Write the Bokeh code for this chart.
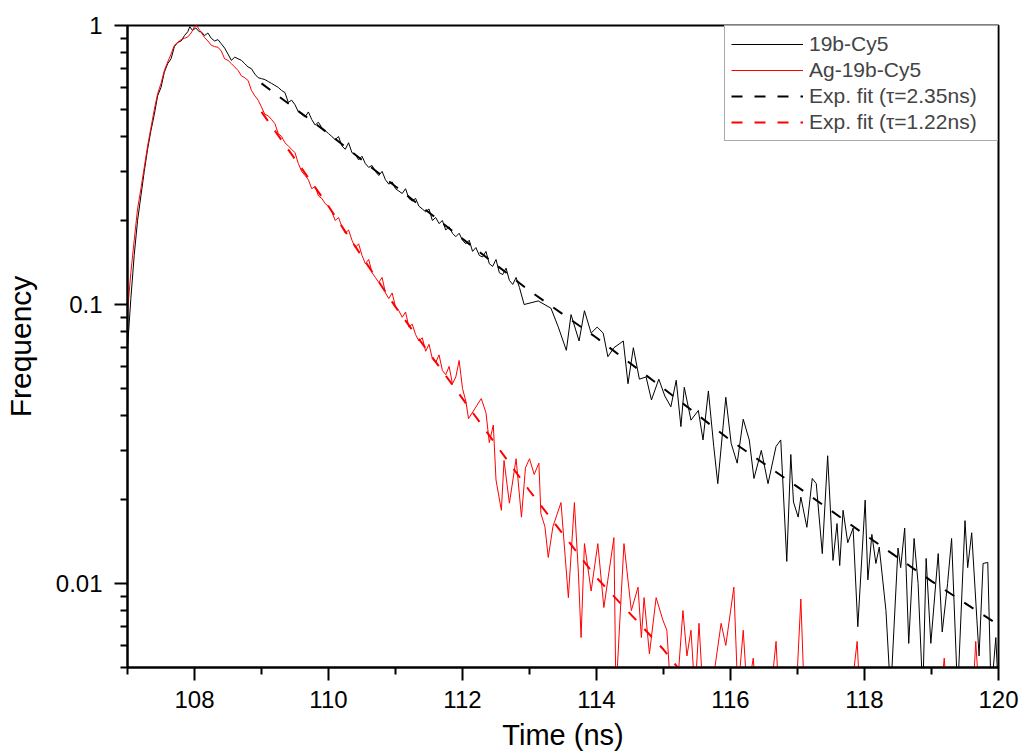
from bokeh.plotting import figure
from bokeh.models import Range1d, FixedTicker, CustomJSTickFormatter, Legend, LegendItem
from bokeh.embed import file_html
from bokeh.resources import INLINE

FONT = "Liberation Sans"

# ---- data ----
black_t = [107.00, 107.05, 107.10, 107.15, 107.20, 107.25, 107.30, 107.35, 107.40, 107.45,
           107.50, 107.55, 107.60, 107.65, 107.70, 107.75, 107.80, 107.85, 107.90, 107.93,
           107.97, 108.02, 108.07, 108.10, 108.15, 108.20, 108.25, 108.30, 108.35, 108.40,
           108.45, 108.50, 108.55, 108.60, 108.65, 108.70, 108.75, 108.80, 108.85, 108.90,
           108.95, 109.00, 109.05, 109.10, 109.15, 109.20, 109.25, 109.30, 109.35, 109.40,
           109.45, 109.50, 109.55, 109.60, 109.65, 109.70, 109.75, 109.80, 109.85, 109.90,
           109.95, 110.00, 110.05, 110.10, 110.15, 110.20, 110.25, 110.30, 110.35, 110.40,
           110.45, 110.50, 110.55, 110.60, 110.65, 110.70, 110.75, 110.80, 110.85, 110.90,
           110.95, 111.00, 111.05, 111.10, 111.15, 111.20, 111.25, 111.30, 111.35, 111.40,
           111.45, 111.50, 111.55, 111.60, 111.65, 111.70, 111.75, 111.80, 111.85, 111.90,
           111.95, 112.00, 112.05, 112.10, 112.15, 112.20, 112.25, 112.30, 112.35, 112.40,
           112.45, 112.50, 112.55, 112.60, 112.65, 112.70, 112.75, 112.80, 112.85, 112.92,
           113.13, 113.32, 113.43, 113.55, 113.62, 113.74, 113.82, 113.92, 114.01, 114.10,
           114.17, 114.26, 114.40, 114.47, 114.55, 114.64, 114.74, 114.82, 114.93, 115.02,
           115.11, 115.19, 115.26, 115.31, 115.41, 115.52, 115.59, 115.67, 115.75, 115.81,
           115.93, 116.01, 116.10, 116.19, 116.28, 116.35, 116.46, 116.56, 116.68, 116.75,
           116.84, 116.90, 116.94, 117.01, 117.05, 117.14, 117.22, 117.28, 117.37, 117.45,
           117.53, 117.59, 117.63, 117.68, 117.75, 117.83, 117.90, 118.01, 118.05, 118.11,
           118.17, 118.22, 118.32, 118.39, 118.50, 118.54, 118.60, 118.66, 118.74, 118.80,
           118.87, 118.92, 118.99, 119.10, 119.16, 119.24, 119.30, 119.39, 119.50, 119.54,
           119.60, 119.71, 119.77, 119.84, 119.89, 119.96, 120.00]
black_v = [0.070, 0.105, 0.150, 0.200, 0.245, 0.300, 0.360, 0.420, 0.480, 0.560,
           0.600, 0.680, 0.730, 0.760, 0.840, 0.870, 0.880, 0.920, 0.950, 0.990,
           0.960, 0.980, 0.950, 0.950, 0.920, 0.940, 0.900, 0.880, 0.890, 0.860,
           0.830, 0.790, 0.750, 0.770, 0.760, 0.750, 0.730, 0.710, 0.700, 0.670,
           0.650, 0.645, 0.640, 0.630, 0.620, 0.610, 0.600, 0.585, 0.575, 0.530,
           0.540, 0.520, 0.490, 0.480, 0.470, 0.490, 0.460, 0.440, 0.450, 0.430,
           0.420, 0.410, 0.400, 0.390, 0.400, 0.370, 0.360, 0.380, 0.350, 0.345,
           0.330, 0.340, 0.320, 0.310, 0.315, 0.300, 0.290, 0.300, 0.280, 0.270,
           0.275, 0.260, 0.255, 0.250, 0.260, 0.240, 0.235, 0.240, 0.225, 0.220,
           0.215, 0.220, 0.200, 0.205, 0.195, 0.200, 0.185, 0.190, 0.180, 0.175,
           0.180, 0.170, 0.165, 0.170, 0.155, 0.160, 0.150, 0.148, 0.155, 0.140,
           0.137, 0.145, 0.130, 0.128, 0.135, 0.122, 0.118, 0.125, 0.115, 0.100,
           0.103, 0.097, 0.083, 0.0685, 0.092, 0.074, 0.095, 0.079, 0.083, 0.079,
           0.065, 0.070, 0.074, 0.052, 0.070, 0.054, 0.055, 0.0455, 0.054, 0.047,
           0.043, 0.0535, 0.0365, 0.0505, 0.0385, 0.0417, 0.0327, 0.049, 0.031, 0.0228,
           0.0465, 0.0318, 0.027, 0.0388, 0.0327, 0.0238, 0.030, 0.0228, 0.031, 0.0327,
           0.0120, 0.029, 0.0196, 0.0173, 0.0204, 0.0159, 0.0238, 0.0228, 0.0128, 0.0287,
           0.0121, 0.0164, 0.0116, 0.0183, 0.0140, 0.0158, 0.0070, 0.0199, 0.0103, 0.0150,
           0.0118, 0.0135, 0.0080, 0.0040, 0.0134, 0.0114, 0.0158, 0.0061, 0.0145, 0.0100,
           0.0040, 0.0123, 0.0061, 0.0128, 0.0067, 0.0100, 0.0145, 0.0040, 0.0168, 0.0114,
           0.0152, 0.0055, 0.0118, 0.0119, 0.0040, 0.0064, 0.0040]

red_t = [107.00, 107.05, 107.10, 107.15, 107.20, 107.25, 107.30, 107.35, 107.40, 107.45,
         107.50, 107.55, 107.60, 107.65, 107.70, 107.75, 107.80, 107.85, 107.90, 107.95,
         108.00, 108.03, 108.08, 108.15, 108.20, 108.25, 108.30, 108.35, 108.40, 108.45,
         108.50, 108.55, 108.60, 108.65, 108.70, 108.75, 108.80, 108.85, 108.90, 108.95,
         109.00, 109.05, 109.10, 109.15, 109.20, 109.25, 109.30, 109.35, 109.40, 109.45,
         109.50, 109.55, 109.60, 109.65, 109.70, 109.75, 109.80, 109.85, 109.90, 109.95,
         110.00, 110.05, 110.10, 110.15, 110.20, 110.25, 110.30, 110.35, 110.40, 110.45,
         110.50, 110.55, 110.60, 110.65, 110.70, 110.75, 110.80, 110.85, 110.90, 110.95,
         111.00, 111.05, 111.10, 111.15, 111.20, 111.25, 111.30, 111.35, 111.40, 111.45,
         111.50, 111.55, 111.60, 111.65, 111.70, 111.75, 111.80, 111.85, 111.90, 111.95,
         112.00, 112.05, 112.09, 112.28, 112.35, 112.40, 112.46, 112.50, 112.58, 112.62,
         112.70, 112.80, 112.88, 112.94, 113.00, 113.07, 113.14, 113.17, 113.23, 113.28,
         113.35, 113.47, 113.58, 113.67, 113.73, 113.77, 113.82, 113.92, 114.02, 114.11,
         114.26, 114.29, 114.37, 114.41, 114.52, 114.62, 114.67, 114.71, 114.79, 114.89,
         114.99, 115.05, 115.11, 115.20, 115.29, 115.35, 115.41, 115.47, 115.53, 115.59,
         115.71, 115.86, 115.93, 116.05, 116.11, 116.19, 116.25, 116.34, 116.38, 116.60,
         116.68, 116.72, 116.98, 117.05, 117.10, 117.80, 117.89, 117.93, 119.14, 119.19,
         119.23, 119.62, 119.66, 119.71, 120.00]
red_v = [0.094, 0.130, 0.170, 0.220, 0.260, 0.310, 0.370, 0.430, 0.500, 0.570,
         0.620, 0.690, 0.740, 0.790, 0.850, 0.870, 0.890, 0.900, 0.910, 0.940,
         0.990, 1.000, 0.960, 0.905, 0.880, 0.850, 0.840, 0.836, 0.810, 0.760,
         0.750, 0.730, 0.710, 0.690, 0.660, 0.650, 0.635, 0.585, 0.560, 0.540,
         0.510, 0.480, 0.475, 0.460, 0.445, 0.410, 0.400, 0.380, 0.370, 0.360,
         0.350, 0.320, 0.300, 0.290, 0.280, 0.260, 0.265, 0.245, 0.240, 0.230,
         0.225, 0.215, 0.200, 0.205, 0.190, 0.180, 0.185, 0.170, 0.160, 0.165,
         0.150, 0.140, 0.145, 0.130, 0.125, 0.120, 0.125, 0.110, 0.105, 0.110,
         0.098, 0.095, 0.090, 0.094, 0.083, 0.085, 0.078, 0.074, 0.076, 0.068,
         0.072, 0.064, 0.062, 0.066, 0.058, 0.056, 0.060, 0.052, 0.055, 0.063,
         0.050, 0.045, 0.039, 0.046, 0.041, 0.032, 0.037, 0.0235, 0.0183, 0.0276,
         0.0194, 0.028, 0.0173, 0.026, 0.028, 0.0246, 0.027, 0.0178, 0.016, 0.0124,
         0.016, 0.0195, 0.0089, 0.0195, 0.0109, 0.0064, 0.0139, 0.0094, 0.0139, 0.0082,
         0.0146, 0.0040, 0.0092, 0.0139, 0.0080, 0.0097, 0.0064, 0.0089, 0.0056, 0.0089,
         0.0074, 0.0068, 0.0040, 0.0040, 0.0080, 0.0055, 0.0068, 0.0040, 0.0072, 0.0040,
         0.0040, 0.0072, 0.0060, 0.0097, 0.0040, 0.0068, 0.0040, 0.0054, 0.0040, 0.0040,
         0.0062, 0.0040, 0.0040, 0.0088, 0.0040, 0.0040, 0.0062, 0.0040, 0.0040, 0.0054,
         0.0040, 0.0040, 0.0062, 0.0040, 0.0040]

black_fit_t = [109.0, 110.0, 111.0, 112.0, 113.0, 114.0, 115.0, 116.0, 117.0, 118.0, 119.0, 120.0]
black_fit_v = [0.62, 0.41, 0.265, 0.172, 0.112, 0.076, 0.050, 0.0326, 0.0222, 0.0150, 0.0102, 0.0071]
red_fit_t = [109.0, 110.0, 111.0, 112.0, 113.0, 114.0, 115.0, 115.3]
red_fit_v = [0.49, 0.225, 0.098, 0.046, 0.0215, 0.0105, 0.0058, 0.0047]

x_major = [108, 110, 112, 114, 116, 118, 120]
x_minor = [107, 109, 111, 113, 115, 117, 119]
y_major = [0.01, 0.1, 1]
y_minor = [0.005, 0.006, 0.007, 0.008, 0.009, 0.02, 0.03, 0.04, 0.05, 0.06, 0.07, 0.08, 0.09,
           0.2, 0.3, 0.4, 0.5, 0.6, 0.7, 0.8, 0.9]

labels = ["19b-Cy5", "Ag-19b-Cy5", "Exp. fit (\u03c4=2.35ns)", "Exp. fit (\u03c4=1.22ns)"]

# ---- figure ----
p = figure(width=1021, height=754, x_range=Range1d(107, 120), y_range=Range1d(0.005, 1),
           y_axis_type="log", output_backend="svg", toolbar_location=None,
           min_border_left=126, min_border_right=23, min_border_top=25, min_border_bottom=87)
p.grid.visible = False
p.background_fill_color = "white"
p.border_fill_color = "white"
p.outline_line_color = "black"
p.outline_line_width = 2

r1 = p.line(black_t, black_v, line_color="black", line_width=1)
r2 = p.line(red_t, red_v, line_color="red", line_width=1)
r3 = p.line(black_fit_t, black_fit_v, line_color="black", line_width=2, line_dash="11 12")
r4 = p.line(red_fit_t, red_fit_v, line_color="red", line_width=2, line_dash="11 12")

legend = Legend(items=[LegendItem(label=labels[0], renderers=[r1]),
                       LegendItem(label=labels[1], renderers=[r2]),
                       LegendItem(label=labels[2], renderers=[r3]),
                       LegendItem(label=labels[3], renderers=[r4])],
                location="top_right", margin=0, padding=6, spacing=2,
                glyph_width=72, glyph_height=24, label_height=24, label_width=182,
                label_standoff=6, label_text_font=FONT, label_text_font_size="21px",
                border_line_color="#555555", border_line_width=1,
                background_fill_color="white", background_fill_alpha=1.0)
p.add_layout(legend)

for ax in (p.xaxis[0], p.yaxis[0]):
    ax.axis_line_width = 2
    ax.axis_line_color = "black"
    ax.major_tick_out = 13
    ax.major_tick_in = 0
    ax.minor_tick_out = 7
    ax.minor_tick_in = 0
    ax.major_tick_line_width = 2
    ax.minor_tick_line_width = 2
    ax.major_label_text_font = FONT
    ax.major_label_text_font_size = "24px"
    ax.major_label_text_color = "black"
    ax.axis_label_text_font = FONT
    ax.axis_label_text_font_style = "normal"
    ax.axis_label_text_color = "black"

p.xaxis.ticker = FixedTicker(ticks=x_major, minor_ticks=x_minor)
p.xaxis.major_label_standoff = 10
p.xaxis.axis_label = "Time (ns)"
p.xaxis.axis_label_text_font_size = "29px"
p.xaxis.axis_label_standoff = 8

p.yaxis.ticker = FixedTicker(ticks=y_major, minor_ticks=y_minor)
p.yaxis.formatter = CustomJSTickFormatter(code="return tick.toString();")
p.yaxis.major_label_standoff = 12
p.yaxis.axis_label = "Frequency"
p.yaxis.axis_label_text_font_size = "30px"
p.yaxis.axis_label_standoff = 16

open("out.html", "w").write(file_html(p, INLINE))
